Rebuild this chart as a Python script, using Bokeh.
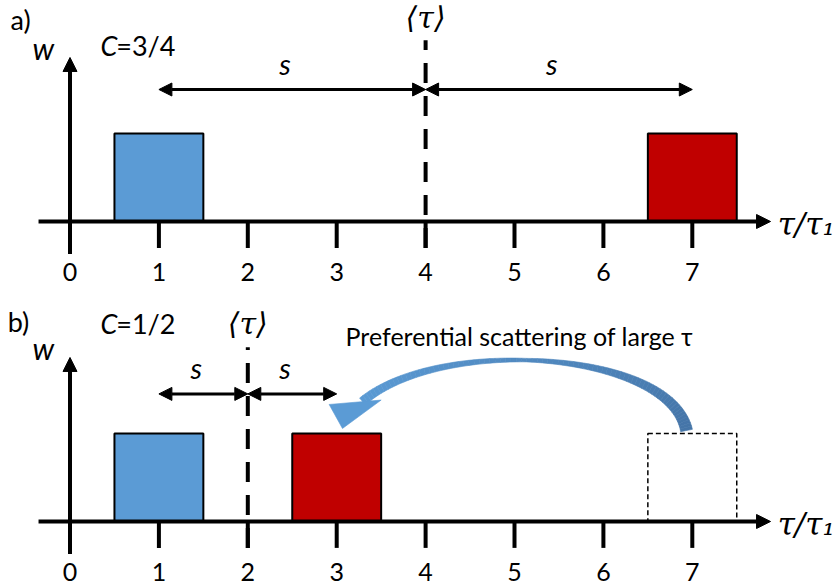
import numpy as np
from bokeh.plotting import figure
from bokeh.models import Arrow, NormalHead, Range1d
from bokeh.layouts import column
from bokeh.core.properties import value
from bokeh.embed import file_html
from bokeh.resources import INLINE

# ---------------- data ----------------
tick_positions = [0, 1, 2, 3, 4, 5, 6, 7]
tick_labels = ["0", "1", "2", "3", "4", "5", "6", "7"]
bar_width = 1.0
bar_height = 1.0

a_blue_center = [1]
a_red_center = [7]
a_mean = 4
a_s = 3
a_C = "=3/4"

b_blue_center = [1]
b_red_center = [3]
b_ghost_center = [7]
b_mean = 2
b_s = 1
b_C = "=1/2"

scatter_text = "Preferential scattering of large \u03c4"

BLUE = "#5B9BD5"
RED = "#C00000"
SANS = value("Lato")
SERIF = value("DejaVu Serif")

PX_X = 88.9   # pixels per tau unit
PX_Y = 88.0   # pixels per w unit
X_RANGE = (-0.7818, 8.6445)


def make_fig(height, y0, y1):
    p = figure(width=838, height=height, x_range=Range1d(*X_RANGE),
               y_range=Range1d(y0, y1), output_backend="svg",
               toolbar_location=None, x_axis_location=None,
               y_axis_location=None, min_border=0,
               outline_line_color=None, background_fill_color="white",
               border_fill_color="white")
    p.grid.visible = False
    return p


def axes(p):
    # horizontal axis
    p.add_layout(Arrow(end=NormalHead(size=14, fill_color="black", line_color="black"),
                       x_start=-0.354, y_start=0, x_end=7.88, y_end=0,
                       line_width=4, line_color="black"))
    # vertical axis
    p.add_layout(Arrow(end=NormalHead(size=14, fill_color="black", line_color="black"),
                       x_start=0, y_start=-0.37, x_end=0, y_end=1.864,
                       line_width=4, line_color="black"))
    # ticks
    tx = tick_positions[1:]
    p.segment(x0=tx, y0=[0] * len(tx), x1=tx, y1=[-0.30] * len(tx),
              line_width=4, line_color="black")
    p.text(x=tick_positions, y=[-0.57] * len(tick_positions), text=tick_labels,
           text_font=SANS, text_font_size="25px", text_align="center",
           text_baseline="middle", text_color="black")
    # axis labels
    p.text(x=[-0.30], y=[1.97], text=["w"], text_font=SANS, text_font_style="italic",
           text_font_size="30px", text_align="center", text_baseline="middle")
    p.text(x=[7.96], y=[-0.03], text=["\u03c4/\u03c4\u2081"], text_font=SERIF,
           text_font_style="italic", text_font_size="31px", text_align="left",
           text_baseline="middle")


def s_arrows(p, mean, s, y, label_y):
    for xs, xe in [(mean - s, mean), (mean, mean + s)]:
        p.add_layout(Arrow(start=NormalHead(size=13, fill_color="black", line_color="black"),
                           end=NormalHead(size=13, fill_color="black", line_color="black"),
                           x_start=xs, y_start=y, x_end=xe, y_end=y,
                           line_width=3, line_color="black"))
    p.text(x=[mean - s / 2 - 0.08, mean + s / 2 - 0.08], y=[label_y, label_y],
           text=["s", "s"], text_font=SANS, text_font_style="italic",
           text_font_size="29px", text_align="center", text_baseline="middle")


def mean_line(p, mean, top, label_y):
    p.segment(x0=[mean], y0=[-0.30], x1=[mean], y1=[top], line_width=4,
              line_color="black", line_dash="20 13")
    p.text(x=[mean], y=[label_y], text=["\u27e8\u03c4\u27e9"], text_font=SERIF,
           text_font_style="italic", text_font_size="30px", text_align="center",
           text_baseline="middle")


def bars(p, centers, color):
    p.vbar(x=centers, width=bar_width, bottom=0, top=bar_height,
           fill_color=color, line_color="black", line_width=2)


# ---------------- panel a ----------------
pa = make_fig(296, -0.8523, 2.5114)
bars(pa, a_blue_center, BLUE)
bars(pa, a_red_center, RED)
mean_line(pa, a_mean, 2.06, 2.32)
s_arrows(pa, a_mean, a_s, 1.50, 1.80)
axes(pa)
pa.text(x=[-0.67], y=[2.29], text=["a)"], text_font=SANS, text_font_size="27px",
        text_align="left", text_baseline="middle")
pa.text(x=[0.343], y=[2.0], text=["C"], text_font=SANS, text_font_style="italic",
        text_font_size="27px", text_align="left", text_baseline="middle")
pa.text(x=[0.52], y=[2.0], text=[a_C], text_font=SANS,
        text_font_size="27px", text_align="left", text_baseline="middle")

# ---------------- panel b ----------------
pb = make_fig(291, -0.75, 2.5568)
bars(pb, b_blue_center, BLUE)
bars(pb, b_red_center, RED)
pb.quad(left=[c - bar_width / 2 for c in b_ghost_center],
        right=[c + bar_width / 2 for c in b_ghost_center],
        bottom=0, top=bar_height, fill_color=None, line_color="black",
        line_width=1.5, line_dash="5 3")
mean_line(pb, b_mean, 1.98, 2.25)
s_arrows(pb, b_mean, b_s, 1.45, 1.75)
axes(pb)
pb.text(x=[-0.70], y=[2.27], text=["b)"], text_font=SANS, text_font_size="27px",
        text_align="left", text_baseline="middle")
pb.text(x=[0.343], y=[2.25], text=["C"], text_font=SANS, text_font_style="italic",
        text_font_size="27px", text_align="left", text_baseline="middle")
pb.text(x=[0.52], y=[2.25], text=[b_C], text_font=SANS,
        text_font_size="27px", text_align="left", text_baseline="middle")
pb.text(x=[3.10], y=[2.11], text=[scatter_text], text_font=SANS,
        text_font_size="25px", text_align="left", text_baseline="middle")

# curved arrow from ghost bar to red bar (cubic Bezier band of varying width)
g = b_ghost_center[0]
r = b_red_center[0]
P = np.array([[g - 0.065, bar_height + 0.034],
              [g - 0.245, bar_height + 0.943],
              [r + 1.168, bar_height + 1.114],
              [r + 0.290, bar_height + 0.364]])
P_px = P * np.array([PX_X, PX_Y])
N = 80
t = np.linspace(0, 1, N + 1)
B = ((1 - t) ** 3)[:, None] * P_px[0] + (3 * (1 - t) ** 2 * t)[:, None] * P_px[1] \
    + (3 * (1 - t) * t ** 2)[:, None] * P_px[2] + (t ** 3)[:, None] * P_px[3]
dB = (3 * (1 - t) ** 2)[:, None] * (P_px[1] - P_px[0]) + (6 * (1 - t) * t)[:, None] * (P_px[2] - P_px[1]) \
    + (3 * t ** 2)[:, None] * (P_px[3] - P_px[2])
nrm = np.stack([-dB[:, 1], dB[:, 0]], axis=1)
nrm /= np.linalg.norm(nrm, axis=1)[:, None]
wid = np.interp(t, [0, 0.2, 0.55, 0.85, 1.0], [12, 9, 3.5, 7, 9])
L = (B + nrm * wid[:, None] / 2) / np.array([PX_X, PX_Y])
R = (B - nrm * wid[:, None] / 2) / np.array([PX_X, PX_Y])
c_start = np.array([0x45, 0x75, 0xA8])
c_end = np.array([0x5B, 0x9B, 0xD5])
xs, ys, cols = [], [], []
for i in range(N):
    xs.append([L[i, 0], L[i + 1, 0], R[i + 1, 0], R[i, 0]])
    ys.append([L[i, 1], L[i + 1, 1], R[i + 1, 1], R[i, 1]])
    c = (c_start + (c_end - c_start) * (i / N)).astype(int)
    cols.append("#%02X%02X%02X" % tuple(c))
pb.patches(xs=xs, ys=ys, fill_color=cols, line_color=cols, line_width=0.6)
pb.patch(x=[r + 0.065, r - 0.085, r + 0.500],
         y=[bar_height + 0.057, bar_height + 0.330, bar_height + 0.380],
         fill_color=BLUE, line_color=BLUE, line_width=0.6)

layout = column(pa, pb, spacing=0)
open("out.html", "w").write(file_html(layout, INLINE))
